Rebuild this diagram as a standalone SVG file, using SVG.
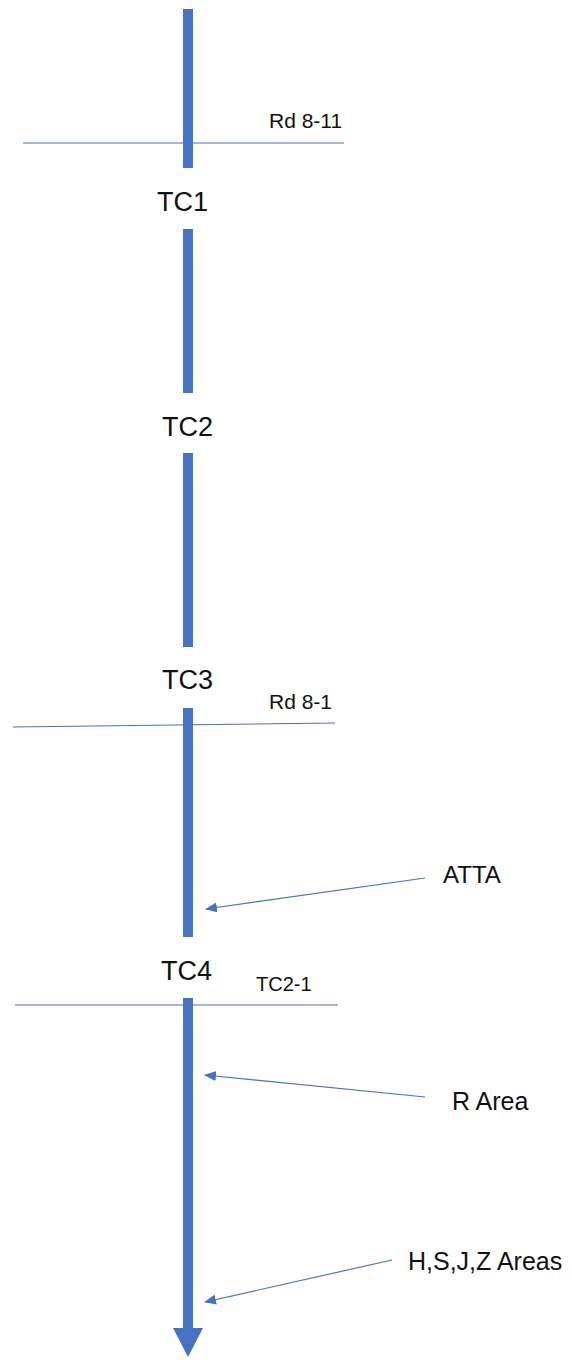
<svg xmlns="http://www.w3.org/2000/svg" width="572" height="1360" viewBox="0 0 572 1360">
<style>
.main{stroke:#4472C4;stroke-width:10;fill:none}
.thin{stroke:#4472C4;stroke-width:1.2;fill:none}
.big{font-family:"Liberation Sans",Arial,sans-serif;font-size:27px;fill:#111}
.lbl{font-family:"Liberation Sans",Arial,sans-serif;font-size:24px;fill:#111}
.small{font-family:"Liberation Sans",Arial,sans-serif;font-size:20px;fill:#111}
</style>
<defs>
<marker id="ah" markerUnits="userSpaceOnUse" markerWidth="12" markerHeight="10" refX="11" refY="5" orient="auto">
<path d="M0,0 L12,5 L0,10 Z" fill="#4472C4"/>
</marker>
</defs>
<rect width="572" height="1360" fill="#fff"/>
<g id="connectors">
<line class="main" x1="188" y1="9" x2="188" y2="168"/>
<line class="main" x1="188" y1="229" x2="188" y2="393"/>
<line class="main" x1="188" y1="453" x2="188" y2="647"/>
<line class="main" x1="188" y1="708" x2="188" y2="937"/>
<line class="main" x1="188" y1="998" x2="188" y2="1330"/>
<polygon points="173,1328 203,1328 188,1357" fill="#4472C4"/>
<line class="thin" x1="23" y1="143" x2="344" y2="143"/>
<line class="thin" x1="13" y1="727" x2="335" y2="723"/>
<line class="thin" x1="15" y1="1005" x2="338" y2="1005"/>
<line class="thin" x1="425" y1="878" x2="206" y2="909" marker-end="url(#ah)"/>
<line class="thin" x1="425" y1="1097" x2="205" y2="1075" marker-end="url(#ah)"/>
<line class="thin" x1="392" y1="1260" x2="205" y2="1302" marker-end="url(#ah)"/>
</g>
<g id="tc1"><text class="big" x="157" y="211">TC1</text></g>
<g id="tc2"><text class="big" x="162" y="436">TC2</text></g>
<g id="tc3"><text class="big" x="162" y="689">TC3</text></g>
<g id="tc4"><text class="big" x="161" y="980">TC4</text></g>
<g id="rd811"><text class="small" x="269" y="128" style="font-size:21px">Rd 8-11</text></g>
<g id="rd81"><text class="small" x="269" y="709" style="font-size:21px">Rd 8-1</text></g>
<g id="tc21"><text class="small" x="256" y="991">TC2-1</text></g>
<g id="atta"><text class="lbl" x="443" y="883">ATTA</text></g>
<g id="rarea"><text class="lbl" x="452" y="1110" style="font-size:25px">R Area</text></g>
<g id="hsjz"><text class="lbl" x="408" y="1270" style="font-size:25px">H,S,J,Z Areas</text></g>
</svg>
